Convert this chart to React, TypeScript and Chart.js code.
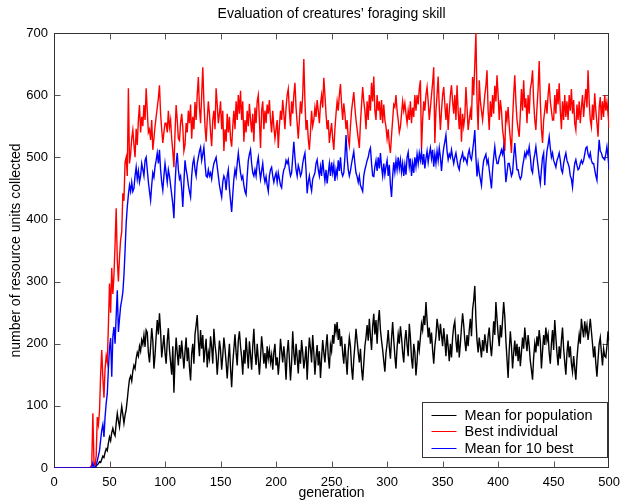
import React, { useEffect, useRef } from "react";
import { Chart, registerables } from "chart.js";

Chart.register(...registerables);

const TITLE = "Evaluation of creatures\u2019 foraging skill";
const X_TITLE = "generation";
const Y_TITLE = "number of resource units collected";
const SERIES_LABELS = ["Mean for population", "Best individual", "Mean for 10 best"];
const SERIES_COLORS = ["#000000", "#ff0000", "#0000ff"];
const X_MIN = 0, X_MAX = 500, X_STEP = 50;
const Y_MIN = 0, Y_MAX = 700, Y_STEP = 100;

// one value per generation, 0..500
const meanPopulation = [
  0,0,0,0,0,0,0,0,0,0,
  0,0,0,0,0,0,0,0,0,0,
  0,0,0,0,0,0,0,0,0,0,
  0,0,0,0,0,0,0,1,3,5,
  7,10,9,14,19,17,25,31,28,40,
  50,44,57,64,56,52,72,88,76,66,
  84,99,86,72,85,94,110,128,143,148,
  140,156,165,160,176,186,180,196,188,206,
  199,214,195,222,218,186,170,195,225,205,
  160,182,212,238,215,249,220,178,196,214,
  185,168,204,225,190,170,150,196,121,175,
  210,185,165,198,176,205,182,160,188,210,
  172,194,162,141,184,200,168,215,230,246,
  205,180,222,192,214,170,190,208,162,186,
  176,212,195,168,224,198,183,150,176,205,
  190,158,181,210,192,170,144,175,200,160,
  130,168,192,215,186,165,205,220,196,178,
  150,190,168,210,185,160,204,182,158,196,
  224,185,166,200,175,150,178,212,192,168,
  185,160,196,176,190,170,182,158,186,200,
  165,178,150,172,208,188,170,196,176,142,
  185,206,175,141,170,220,185,166,200,178,
  152,190,168,206,186,160,175,196,142,180,
  210,192,170,214,186,150,178,198,165,188,
  145,176,206,186,170,196,215,180,160,198,
  188,214,200,232,218,235,206,224,196,212,
  185,168,200,176,150,188,210,196,162,142,
  175,198,224,205,186,170,192,160,141,168,
  196,210,230,205,240,212,190,228,248,215,
  238,200,236,254,222,205,190,172,155,185,
  200,222,195,176,208,235,206,180,160,194,
  215,200,228,210,186,170,205,222,198,180,
  232,210,176,160,200,186,149,172,205,190,
  210,232,222,245,230,267,238,210,226,200,
  218,190,168,196,212,240,226,205,232,214,
  196,225,205,180,215,195,172,200,178,210,
  228,236,205,186,215,178,200,226,249,230,
  205,188,214,196,222,240,212,255,270,293,
  240,205,186,210,195,178,206,188,215,200,
  185,212,226,198,180,205,236,214,267,240,
  215,196,230,210,238,267,244,205,175,145,
  190,220,196,160,185,205,180,200,172,195,
  164,186,210,192,226,205,188,214,196,172,
  158,142,178,200,186,212,196,222,204,160,
  188,214,198,226,205,215,185,168,200,222,
  190,238,210,185,165,196,176,205,226,192,
  170,150,185,205,178,196,168,155,180,160,
  142,176,198,215,200,240,224,210,236,218,
  230,206,222,240,220,200,178,196,168,147,
  175,200,210,186,165,192,180,178,196,220,
  205,
];

const bestIndividual = [
  0,0,0,0,0,0,0,0,0,0,
  0,0,0,0,0,0,0,0,0,0,
  0,0,0,0,0,0,0,0,0,0,
  0,0,0,2,5,88,10,3,20,82,
  70,92,150,190,145,113,160,180,170,230,
  297,250,322,280,310,360,418,335,300,340,
  367,380,442,430,492,500,470,611,490,505,
  530,544,520,500,546,520,560,584,540,565,
  550,584,560,611,575,540,545,528,560,512,
  530,550,565,580,595,616,570,545,523,540,
  555,555,540,575,548,560,530,510,484,540,
  584,560,530,527,555,570,548,510,520,555,
  540,575,555,585,530,565,545,589,560,600,
  629,580,555,600,645,590,550,525,560,590,
  570,540,518,560,575,545,611,585,555,570,
  590,545,575,510,545,525,570,540,565,530,
  517,550,575,545,590,560,600,570,607,560,
  590,525,560,540,575,550,586,560,540,570,
  525,580,555,590,600,560,515,575,590,545,
  575,555,585,570,592,560,540,575,550,530,
  545,560,515,550,575,560,592,570,545,580,
  600,610,575,550,590,570,600,620,580,555,
  530,560,590,570,600,658,590,544,560,530,
  512,540,575,550,560,580,565,592,575,555,
  585,600,580,628,600,570,545,560,523,540,
  555,530,512,545,570,590,575,600,618,585,
  560,587,570,545,560,530,519,550,575,590,
  605,580,560,545,530,515,555,585,613,590,
  575,545,590,560,600,575,620,590,630,575,
  560,600,575,590,560,592,555,585,560,549,
  530,545,520,507,535,560,585,581,600,575,
  560,540,549,570,590,575,587,570,555,575,
  560,590,555,580,565,600,575,600,585,610,
  624,512,560,590,575,600,613,590,560,580,
  600,620,645,523,575,600,630,580,544,575,
  600,613,585,560,587,544,575,600,616,590,
  570,600,560,616,575,545,580,525,570,550,
  565,613,580,544,560,575,560,629,600,650,
  700,590,544,624,590,575,560,580,600,615,
  640,575,544,590,565,600,570,615,590,632,
  600,560,592,575,545,530,510,575,560,581,
  550,530,507,560,600,632,590,560,545,533,
  570,610,575,624,580,595,555,600,570,610,
  620,640,590,560,544,580,610,655,590,545,
  523,560,575,592,570,600,619,590,575,560,
  560,600,570,610,585,619,575,545,590,560,
  600,565,590,560,600,575,610,570,592,555,
  544,585,560,590,555,580,600,565,590,610,
  580,640,590,560,549,585,560,603,575,555,
  533,580,597,560,590,565,600,575,589,570,
  547,
];

const meanTenBest = [
  0,0,0,0,0,0,0,0,0,0,
  0,0,0,0,0,0,0,0,0,0,
  0,0,0,0,0,0,0,0,0,0,
  0,0,0,0,0,8,2,1,4,12,
  20,28,45,61,70,50,82,104,120,160,
  193,209,147,211,227,200,245,286,219,240,
  260,270,283,310,350,394,420,440,455,445,
  460,445,450,470,484,465,478,460,470,490,
  480,470,495,500,480,460,445,431,455,475,
  468,485,495,507,490,512,480,460,447,470,
  490,475,460,480,470,455,440,425,402,455,
  490,507,480,465,470,450,420,460,495,480,
  470,455,445,436,470,490,498,480,470,490,
  500,510,516,495,505,516,490,470,468,480,
  470,475,465,480,490,495,500,485,470,455,
  445,436,460,470,465,447,470,480,450,430,
  412,440,465,480,470,490,507,490,475,465,
  470,455,445,440,470,495,505,512,490,475,
  470,480,470,490,500,480,465,478,490,470,
  460,469,455,445,470,480,484,470,460,469,
  475,460,475,465,455,451,470,480,484,495,
  490,496,480,470,475,500,525,500,480,470,
  487,480,470,475,490,500,507,480,442,460,
  470,455,446,465,470,475,490,496,480,470,
  485,470,496,478,462,480,458,475,490,470,
  492,475,488,462,480,470,495,478,500,476,
  470,475,500,536,500,480,470,478,490,500,
  509,490,475,469,460,470,455,450,445,470,
  480,487,495,500,510,515,490,470,469,485,
  495,478,500,482,507,485,470,490,472,485,
  495,470,488,455,436,470,492,476,495,480,
  500,482,496,476,490,470,488,472,500,508,
  485,498,470,490,475,500,485,505,490,507,
  495,509,488,505,482,498,510,492,505,515,
  498,512,485,505,490,510,495,515,500,478,
  500,515,525,536,510,496,505,500,512,500,
  490,500,507,495,485,480,495,500,507,495,
  500,496,490,505,512,500,496,510,525,544,
  500,469,490,475,465,455,480,495,500,505,
  490,496,480,465,450,480,500,517,500,490,
  490,500,505,512,505,517,490,460,475,490,
  490,480,470,475,500,523,500,480,480,470,
  465,469,485,495,507,500,510,505,517,500,
  480,475,495,505,517,500,485,470,458,480,
  500,507,455,490,510,520,533,515,500,507,
  495,490,484,495,500,507,495,480,475,490,
  500,507,495,490,484,470,465,452,475,490,
  496,487,480,482,490,495,490,495,505,515,
  517,505,500,507,495,490,490,480,470,463,
  500,528,510,507,500,498,496,505,517,500,
  480,
];

const SERIES = [meanPopulation, bestIndividual, meanTenBest];

const FONT_FAMILY = '"Liberation Sans", Arial, Helvetica, sans-serif';

const boxPlugin = {
  id: "matlabBox",
  beforeDatasetsDraw(chart: any) {
    const { ctx, chartArea, scales } = chart;
    const { left, right, top, bottom } = chartArea;
    ctx.save();
    ctx.strokeStyle = "#333333";
    ctx.lineWidth = 1;
    const L = Math.round(left) + 0.5;
    const R = Math.round(right) - 0.5;
    const T = Math.round(top) + 0.5;
    const B = Math.round(bottom) - 0.5;
    ctx.strokeRect(L, T, R - L, B - T);
    const tl = 6;
    ctx.strokeStyle = "#555555";
    ctx.beginPath();
    for (const t of scales.x.ticks) {
      if (t.value <= X_MIN || t.value >= X_MAX) continue;
      const px = Math.round(scales.x.getPixelForValue(t.value)) + 0.5;
      ctx.moveTo(px, B);
      ctx.lineTo(px, B - tl);
      ctx.moveTo(px, T);
      ctx.lineTo(px, T + tl);
    }
    for (const t of scales.y.ticks) {
      if (t.value <= Y_MIN || t.value >= Y_MAX) continue;
      const py = Math.round(scales.y.getPixelForValue(t.value)) + 0.5;
      ctx.moveTo(L, py);
      ctx.lineTo(L + tl, py);
      ctx.moveTo(R, py);
      ctx.lineTo(R - tl, py);
    }
    ctx.stroke();
    ctx.restore();
  },
};

const legendPlugin = {
  id: "boxLegend",
  afterDatasetsDraw(chart: any) {
    const { ctx, chartArea } = chart;
    const w = 185, h = 55;
    const x0 = Math.round(chartArea.right) - 2 - w + 0.5;
    const y0 = Math.round(chartArea.bottom) - 11 - h + 0.5;
    ctx.save();
    ctx.fillStyle = "#ffffff";
    ctx.fillRect(x0, y0, w, h);
    ctx.strokeStyle = "#333333";
    ctx.lineWidth = 1;
    ctx.strokeRect(x0, y0, w, h);
    ctx.font = `14.5px ${FONT_FAMILY}`;
    ctx.textAlign = "left";
    ctx.textBaseline = "middle";
    chart.data.datasets.forEach((ds: any, i: number) => {
      const yy = Math.round(y0 + 12 + i * 16.5);
      ctx.strokeStyle = ds.borderColor;
      ctx.lineWidth = 1;
      ctx.beginPath();
      ctx.moveTo(x0 + 9, yy + 0.5);
      ctx.lineTo(x0 + 34, yy + 0.5);
      ctx.stroke();
      ctx.fillStyle = "#000000";
      ctx.fillText(ds.label, x0 + 42, yy + 1);
    });
    ctx.restore();
  },
};

const titlePlugin = {
  id: "topTitle",
  afterDraw(chart: any) {
    const { ctx, chartArea } = chart;
    ctx.save();
    ctx.font = `14px ${FONT_FAMILY}`;
    ctx.fillStyle = "#000000";
    ctx.textAlign = "center";
    ctx.textBaseline = "middle";
    ctx.fillText(TITLE, (chartArea.left + chartArea.right) / 2, 14);
    ctx.restore();
  },
};

export default function App() {
  const canvasRef = useRef<HTMLCanvasElement | null>(null);

  useEffect(() => {
    if (!canvasRef.current) return;
    const datasets = SERIES.map((values, i) => ({
      label: SERIES_LABELS[i],
      data: values.map((v, gen) => ({ x: gen, y: v })),
      borderColor: SERIES_COLORS[i],
      backgroundColor: SERIES_COLORS[i],
      borderWidth: 1.4,
      pointRadius: 0,
      tension: 0,
      fill: false,
      order: SERIES.length - i,
    }));
    const chart = new Chart(canvasRef.current, {
      type: "line",
      data: { datasets },
      plugins: [boxPlugin, legendPlugin, titlePlugin],
      options: {
        animation: false,
        responsive: false,
        devicePixelRatio: 1,
        layout: { padding: { top: 33, right: 13, left: 0, bottom: 0 } },
        plugins: {
          legend: { display: false },
          tooltip: { enabled: false },
          title: { display: false },
        },
        scales: {
          x: {
            type: "linear",
            min: X_MIN,
            max: X_MAX,
            grid: { display: false, drawTicks: false },
            border: { display: false },
            ticks: {
              stepSize: X_STEP,
              padding: 7,
              maxRotation: 0,
              autoSkip: false,
              color: "#000000",
              font: { family: FONT_FAMILY, size: 13 },
            },
            title: {
              display: true,
              text: X_TITLE,
              color: "#000000",
              font: { family: FONT_FAMILY, size: 14 },
              padding: { top: 0, bottom: 2 },
            },
            afterFit: (s: any) => {
              s.height = 36;
            },
          },
          y: {
            type: "linear",
            min: Y_MIN,
            max: Y_MAX,
            grid: { display: false, drawTicks: false },
            border: { display: false },
            ticks: {
              stepSize: Y_STEP,
              padding: 6,
              color: "#000000",
              font: { family: FONT_FAMILY, size: 13 },
            },
            title: {
              display: true,
              text: Y_TITLE,
              color: "#000000",
              font: { family: FONT_FAMILY, size: 14 },
              padding: { top: 8, bottom: 0 },
            },
            afterFit: (s: any) => {
              s.width = 54;
            },
          },
        },
      },
    } as any);
    return () => chart.destroy();
  }, []);

  return (
    <div style={{ position: "fixed", left: 0, top: 0, width: 627, height: 504, background: "#ffffff" }}>
      <canvas ref={canvasRef} width={627} height={504} style={{ display: "block" }} />
    </div>
  );
}
